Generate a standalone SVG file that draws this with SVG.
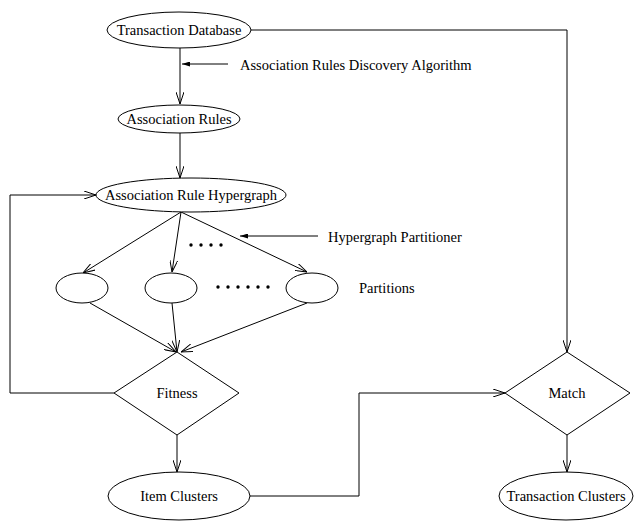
<svg xmlns="http://www.w3.org/2000/svg" width="640" height="521" viewBox="0 0 640 521">
<defs>
<marker id="a" viewBox="0 0 12 8" refX="12" refY="4" markerWidth="12" markerHeight="8" markerUnits="userSpaceOnUse" orient="auto"><path d="M0,0 L12,4 L0,8" fill="none" stroke="#000" stroke-width="1"/></marker>
<marker id="s" viewBox="0 0 8 5" refX="8" refY="2.5" markerWidth="8" markerHeight="5" markerUnits="userSpaceOnUse" orient="auto"><path d="M0,0 L8,2.5 L0,5 z" fill="#000"/></marker>
<style>
.n{fill:#fff;stroke:#000;stroke-width:1}
.c{fill:none;stroke:#000;stroke-width:1}
.t{font-family:"Liberation Serif","Times New Roman",serif;font-size:14.5px;fill:#000}
.m{text-anchor:middle}
</style>
</defs>
<g id="connectors">
<path class="c" d="M180,48 V104" marker-end="url(#a)"/>
<path class="c" d="M228,64 H182" marker-end="url(#s)"/>
<path class="c" d="M180,133 V178" marker-end="url(#a)"/>
<path class="c" d="M181,212 L83,273" marker-end="url(#a)"/>
<path class="c" d="M181,212 L172,272" marker-end="url(#a)"/>
<path class="c" d="M181,212 L307,272" marker-end="url(#a)"/>
<path class="c" d="M318,236 H240" marker-end="url(#s)"/>
<path class="c" d="M90,303 L176,352" marker-end="url(#a)"/>
<path class="c" d="M172,303 L177,352" marker-end="url(#a)"/>
<path class="c" d="M307,303 L181,352" marker-end="url(#a)"/>
<path class="c" d="M114,393 H10 V195 H96" marker-end="url(#a)"/>
<path class="c" d="M177,435 V472" marker-end="url(#a)"/>
<path class="c" d="M251,30 H567 V352" marker-end="url(#a)"/>
<path class="c" d="M250,496 H359 V393 H505" marker-end="url(#a)"/>
<path class="c" d="M567,435 V472" marker-end="url(#a)"/>
<g fill="#000">
<circle cx="191" cy="245" r="1.7"/><circle cx="201" cy="245" r="1.7"/><circle cx="211" cy="245" r="1.7"/><circle cx="221" cy="245" r="1.7"/>
<circle cx="218" cy="287" r="1.7"/><circle cx="228" cy="287" r="1.7"/><circle cx="238" cy="287" r="1.7"/><circle cx="248" cy="287" r="1.7"/><circle cx="258" cy="287" r="1.7"/><circle cx="268" cy="287" r="1.7"/>
</g>
</g>
<g id="transaction-database"><ellipse class="n" cx="179" cy="30" rx="72" ry="18"/><text class="t m" x="179" y="35">Transaction Database</text></g>
<g id="discovery-label"><text class="t" x="240" y="70">Association Rules Discovery Algorithm</text></g>
<g id="association-rules"><ellipse class="n" cx="179" cy="119" rx="61" ry="14"/><text class="t m" x="179" y="124">Association Rules</text></g>
<g id="hypergraph"><ellipse class="n" cx="191" cy="195" rx="95" ry="17"/><text class="t m" x="191" y="200">Association Rule Hypergraph</text></g>
<g id="partitioner-label"><text class="t" x="328" y="242">Hypergraph Partitioner</text></g>
<g id="partition-1"><ellipse class="n" cx="82" cy="288" rx="26" ry="15"/></g>
<g id="partition-2"><ellipse class="n" cx="171" cy="288" rx="26" ry="15"/></g>
<g id="partition-3"><ellipse class="n" cx="312" cy="288" rx="26" ry="15"/></g>
<g id="partitions-label"><text class="t" x="359" y="293">Partitions</text></g>
<g id="fitness"><polygon class="n" points="177,352 239,393 177,435 114,393"/><text class="t m" x="177" y="398">Fitness</text></g>
<g id="item-clusters"><ellipse class="n" cx="179" cy="496" rx="71" ry="24"/><text class="t m" x="179" y="501">Item Clusters</text></g>
<g id="match"><polygon class="n" points="567,352 630,393 567,435 505,393"/><text class="t m" x="567" y="398">Match</text></g>
<g id="transaction-clusters"><ellipse class="n" cx="566" cy="496" rx="67" ry="24"/><text class="t m" x="566" y="501">Transaction Clusters</text></g>
</svg>
